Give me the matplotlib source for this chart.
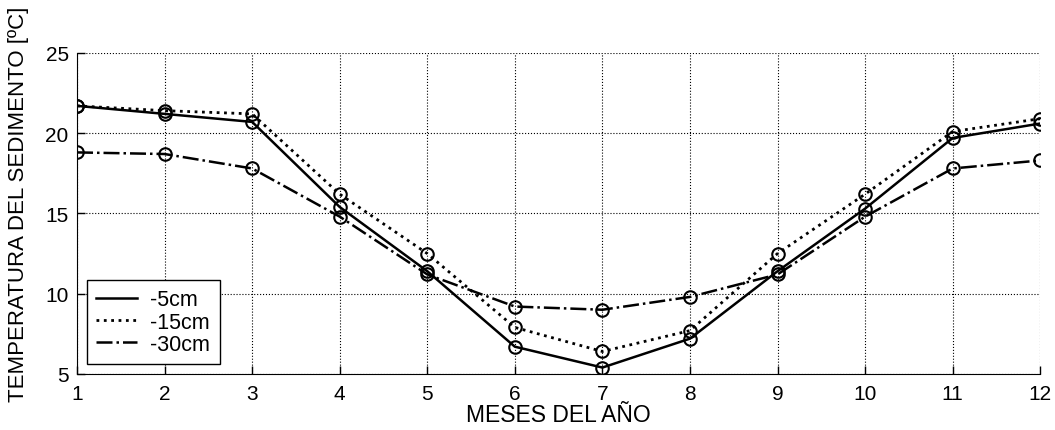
import numpy as np
import matplotlib.pyplot as plt

plt.rcParams['font.family'] = ['Liberation Sans', 'DejaVu Sans']

# Monthly sediment temperature at three depths
meses = np.arange(1, 13)
t_5cm = [21.7, 21.2, 20.7, 15.4, 11.4, 6.7, 5.4, 7.2, 11.4, 15.3, 19.7, 20.6]
t_15cm = [21.7, 21.4, 21.2, 16.2, 12.5, 7.9, 6.4, 7.7, 12.5, 16.2, 20.1, 20.9]
t_30cm = [18.8, 18.7, 17.8, 14.8, 11.2, 9.2, 9.0, 9.8, 11.2, 14.8, 17.8, 18.3]

fig = plt.figure(figsize=(10.55, 4.31), dpi=100)
ax = fig.add_axes([0.073, 0.130, 0.913, 0.745])

mk = dict(marker='o', markersize=9, markerfacecolor='none',
          markeredgecolor='black', markeredgewidth=1.5, color='black')
ax.plot(meses, t_5cm, '-', lw=1.8, label='-5cm', **mk)
ax.plot(meses, t_15cm, ':', lw=2.0, label='-15cm', **mk)
ax.plot(meses, t_30cm, '-.', lw=1.8, label='-30cm', **mk)

ax.set_xlim(1, 12)
ax.set_ylim(5, 25)
ax.set_xticks(meses)
ax.set_yticks([5, 10, 15, 20, 25])
ax.tick_params(direction='in', length=6, labelsize=15, width=1)
ax.tick_params(axis='x', pad=7)
ax.tick_params(axis='y', pad=6)
ax.grid(True, linestyle=':', color='black', linewidth=0.8)

ax.spines['top'].set_visible(False)
ax.spines['right'].set_visible(False)

ax.set_xlabel('MESES DEL AÑO', fontsize=16.5, labelpad=0)
ax.set_ylabel('TEMPERATURA DEL SEDIMENTO [ºC]', fontsize=16)
ax.yaxis.set_label_coords(-0.050, 0.53)

leg = ax.legend(loc='lower left', bbox_to_anchor=(0.010, 0.03),
                borderaxespad=0, fontsize=15.5,
                fancybox=False, framealpha=1, edgecolor='black',
                handlelength=1.9, handletextpad=0.6, borderpad=0.45,
                labelspacing=0.05)
for h in leg.legend_handles:
    h.set_marker('')

fig.savefig('out.png', dpi=100)
